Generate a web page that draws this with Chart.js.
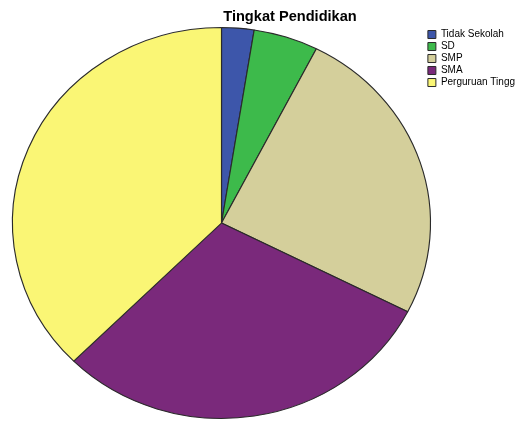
<!DOCTYPE html>
<html>
<head>
<meta charset="utf-8">
<script src="https://cdn.jsdelivr.net/npm/chart.js@4/dist/chart.umd.min.js"></script>
<style>
  html, body { margin: 0; padding: 0; background: #fff; }
  #wrap { width: 517px; height: 421px; position: relative; }
</style>
</head>
<body>
<div id="wrap"><canvas id="pieChart"></canvas></div>
<script>
// data (counts, total 80)
var labels = ['Tidak Sekolah', 'SD', 'SMP', 'SMA', 'Perguruan Tingg'];
var counts = [2, 4, 20, 24, 30];
var colors = ['#3d56aa', '#3dba4b', '#d4cf9b', '#7a297b', '#faf675'];

// the original pie is slightly squashed (ellipse), stretch the drawn arcs
var ellipsePlugin = {
  id: 'ellipse',
  beforeDatasetsDraw: function(chart) {
    var arc = chart.getDatasetMeta(0).data[0];
    var ctx = chart.ctx;
    ctx.save();
    ctx.translate(221.5, 223);
    ctx.scale(209 / arc.outerRadius, 195.5 / arc.outerRadius);
    ctx.translate(-arc.x, -arc.y);
  },
  afterDatasetsDraw: function(chart) {
    chart.ctx.restore();
  }
};

var ctx = document.getElementById('pieChart').getContext('2d');
var chart = new Chart(ctx, {
  type: 'pie',
  data: {
    labels: labels,
    datasets: [{
      data: counts,
      backgroundColor: colors,
      borderColor: '#2a2a2a',
      borderWidth: 1
    }]
  },
  options: {
    responsive: true,
    maintainAspectRatio: false,
    animation: false,
    layout: { padding: { left: 55, right: -8 } },
    plugins: {
      title: {
        display: true,
        text: 'Tingkat Pendidikan',
        color: '#000',
        font: { family: 'Liberation Sans, Arial, sans-serif', size: 14.6, weight: 'bold' },
        padding: { top: 8, bottom: 2 }
      },
      legend: {
        position: 'right',
        align: 'start',
        fullSize: false,
        labels: {
          boxWidth: 8,
          boxHeight: 8,
          padding: 2,
          color: '#000',
          font: { family: 'Liberation Sans, Arial, sans-serif', size: 10 }
        }
      },
      tooltip: { enabled: false }
    }
  },
  plugins: [ellipsePlugin]
});
</script>
</body>
</html>
